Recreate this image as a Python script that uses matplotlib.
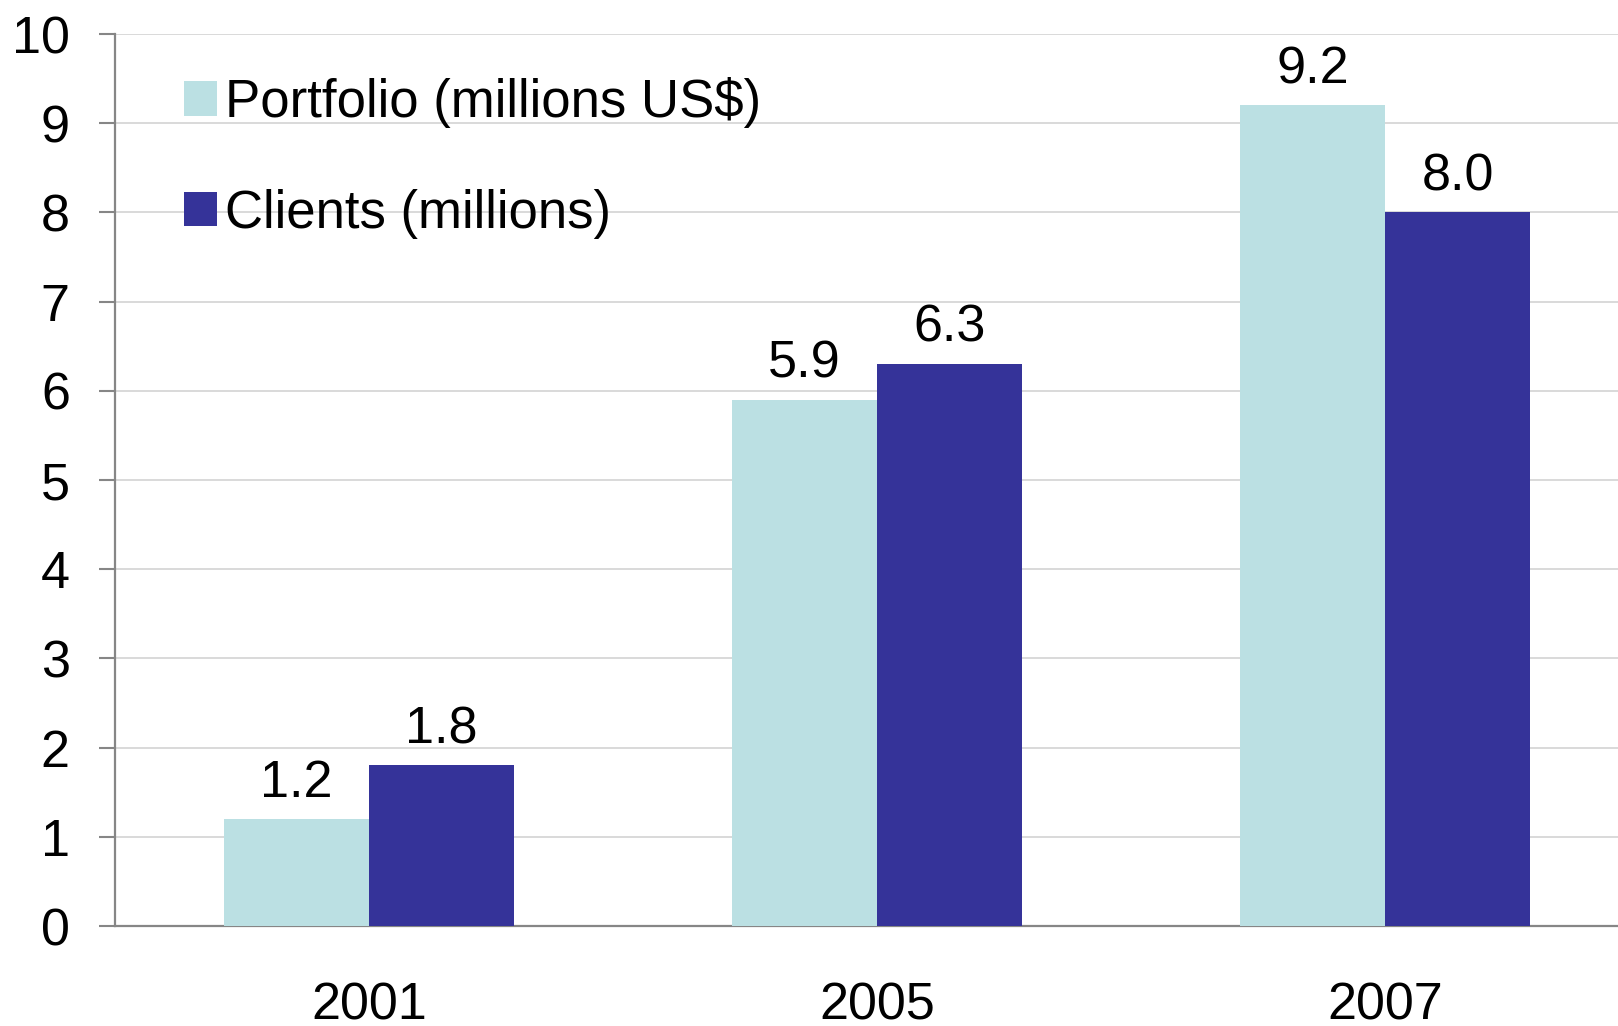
import matplotlib
matplotlib.use("Agg")
import matplotlib.pyplot as plt
import numpy as np

categories = ["2001", "2005", "2007"]
portfolio = [1.2, 5.9, 9.2]
clients = [1.8, 6.3, 8.0]
series_names = ["Portfolio (millions US$)", "Clients (millions)"]
yticks = list(range(0, 11))

plt.rcParams['font.family'] = ['Liberation Sans', 'DejaVu Sans']

W, H = 1618, 1026
fig = plt.figure(figsize=(W / 100, H / 100), dpi=100)
ax = fig.add_axes([115 / W, 1 - 926 / H, (1639 - 115) / W, (926 - 34) / H])

x = np.arange(len(categories))
bw = 1 / 3.5
c1, c2 = "#BBE0E3", "#353399"
b1 = ax.bar(x - bw / 2, portfolio, bw, color=c1, label=series_names[0], zorder=3)
b2 = ax.bar(x + bw / 2, clients, bw, color=c2, label=series_names[1], zorder=3)

for bars, vals in ((b1, portfolio), (b2, clients)):
    for rect, v in zip(bars, vals):
        ax.annotate(f"{v:.1f}", (rect.get_x() + rect.get_width() / 2, v),
                    xytext=(0, 8), textcoords="offset points",
                    ha="center", va="bottom", fontsize=37.5, color="black")

ax.set_xlim(-0.5, len(categories) - 0.5)
ax.set_ylim(0, 10)
ax.set_yticks(yticks)
ax.set_xticks(x)
ax.set_xticklabels(categories)
ax.yaxis.grid(True, color="#d9d9d9", linewidth=1.4, zorder=0)
ax.set_axisbelow(True)
for s in ("top", "right"):
    ax.spines[s].set_visible(False)
for s in ("left", "bottom"):
    ax.spines[s].set_color("#868686")
    ax.spines[s].set_linewidth(1.6)
ax.tick_params(axis="y", length=11.5, width=1.5, color="#868686", pad=21, labelsize=37.5)
ax.tick_params(axis="x", length=0, pad=40, labelsize=37.5)

leg = ax.legend(loc="upper left", bbox_to_anchor=(184 / W, 1 - 77 / H),
                bbox_transform=fig.transFigure, frameon=False, fontsize=38,
                handlelength=0.62, handleheight=0.62, handletextpad=0.15,
                labelspacing=1.15, borderpad=0, borderaxespad=0)

fig.savefig("out.png", dpi=100)
